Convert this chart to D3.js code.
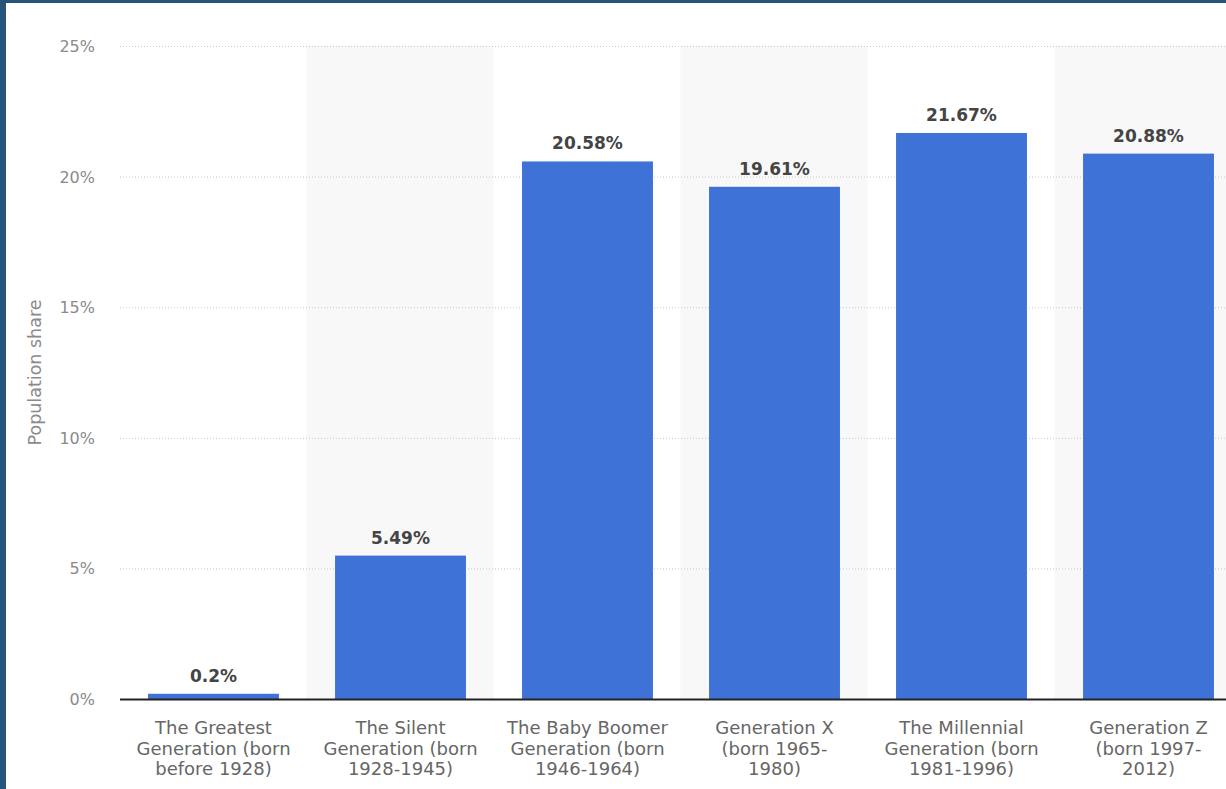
<!DOCTYPE html>
<html>
<head>
<meta charset="utf-8">
<script src="https://cdn.jsdelivr.net/npm/d3@7"></script>
<style>
  body { margin: 0; background: #27557a; }
  #chart { position: absolute; left: 6px; top: 3px; width: 1220px; height: 786px; background: #fff; overflow: hidden; }
  text { font-family: "DejaVu Sans", "Open Sans", sans-serif; }
</style>
</head>
<body>
<div id="chart"></div>
<script>
var categories = [
  ["The Greatest", "Generation (born", "before 1928)"],
  ["The Silent", "Generation (born", "1928-1945)"],
  ["The Baby Boomer", "Generation (born", "1946-1964)"],
  ["Generation X", "(born 1965-", "1980)"],
  ["The Millennial", "Generation (born", "1981-1996)"],
  ["Generation Z", "(born 1997-", "2012)"]
];
var shares = [0.2, 5.49, 20.58, 19.61, 21.67, 20.88];
var yTicks = [0, 5, 10, 15, 20, 25];

// coordinates are relative to the white panel (page offset 6,3)
var width = 1220, height = 786;
var margin = {left: 114, right: -16, top: 43, bottom: 90};

var svg = d3.select('#chart').append('svg')
  .attr('width', width)
  .attr('height', height);

var x = d3.scaleBand()
  .domain(d3.range(categories.length))
  .range([margin.left, width - margin.right])
  .paddingInner(0.3)
  .paddingOuter(0.15);

var y = d3.scaleLinear()
  .domain([0, 25])
  .range([height - margin.bottom, margin.top]);

var step = x.step();

// alternating background bands
svg.selectAll('.band')
  .data(d3.range(categories.length).filter(function (i) { return i % 2 == 1; }))
  .enter().append('rect')
  .attr('class', 'band')
  .attr('x', function (i) { return x(i) - step * 0.3 / 2 - 0.5; })
  .attr('width', step)
  .attr('y', y(25))
  .attr('height', y(0) - y(25))
  .attr('fill', '#f8f8f8');

// grid
svg.selectAll('.grid')
  .data(yTicks.slice(1))
  .enter().append('line')
  .attr('x1', margin.left)
  .attr('x2', width)
  .attr('y1', function (d) { return y(d) + 0.5; })
  .attr('y2', function (d) { return y(d) + 0.5; })
  .attr('stroke', '#c8c8c8')
  .attr('stroke-width', 1)
  .attr('stroke-dasharray', '1,2');

// y tick labels
svg.selectAll('.ytick')
  .data(yTicks)
  .enter().append('text')
  .attr('x', 89)
  .attr('y', function (d) { return y(d) + 6; })
  .attr('text-anchor', 'end')
  .style('font-size', '16px')
  .style('fill', '#8a8a8a')
  .text(function (d) { return d + '%'; });

svg.append('text')
  .attr('transform', 'translate(35,' + (y(12.5)) + ') rotate(-90)')
  .attr('text-anchor', 'middle')
  .style('font-size', '17.5px')
  .style('fill', '#8a8a8a')
  .text('Population share');

// bars
svg.selectAll('.bar')
  .data(shares)
  .enter().append('rect')
  .attr('class', 'bar')
  .attr('x', function (d, i) { return x(i); })
  .attr('width', x.bandwidth())
  .attr('y', function (d) { return y(d); })
  .attr('height', function (d) { return y(0) - y(d); })
  .attr('fill', '#3f72d6');

// value labels
svg.selectAll('.val')
  .data(shares)
  .enter().append('text')
  .attr('x', function (d, i) { return x(i) + x.bandwidth() / 2; })
  .attr('y', function (d) { return y(d) - 12; })
  .attr('text-anchor', 'middle')
  .style('font-size', '17px')
  .style('font-weight', 'bold')
  .style('fill', '#444')
  .text(function (d) { return d + '%'; });

// x axis line
svg.append('line')
  .attr('x1', margin.left)
  .attr('x2', width)
  .attr('y1', y(0) + 0.5)
  .attr('y2', y(0) + 0.5)
  .attr('stroke', '#222')
  .attr('stroke-width', 2);

// x labels
var xl = svg.selectAll('.xlab')
  .data(categories)
  .enter().append('text')
  .attr('text-anchor', 'middle')
  .style('font-size', '18px')
  .style('fill', '#666');

xl.selectAll('tspan')
  .data(function (d, i) { return d.map(function (t) { return {t: t, i: i}; }); })
  .enter().append('tspan')
  .attr('x', function (d) { return x(d.i) + x.bandwidth() / 2; })
  .attr('y', function (d, j) { return y(0) + 35 + j * 20.5; })
  .text(function (d) { return d.t; });
</script>
</body>
</html>
